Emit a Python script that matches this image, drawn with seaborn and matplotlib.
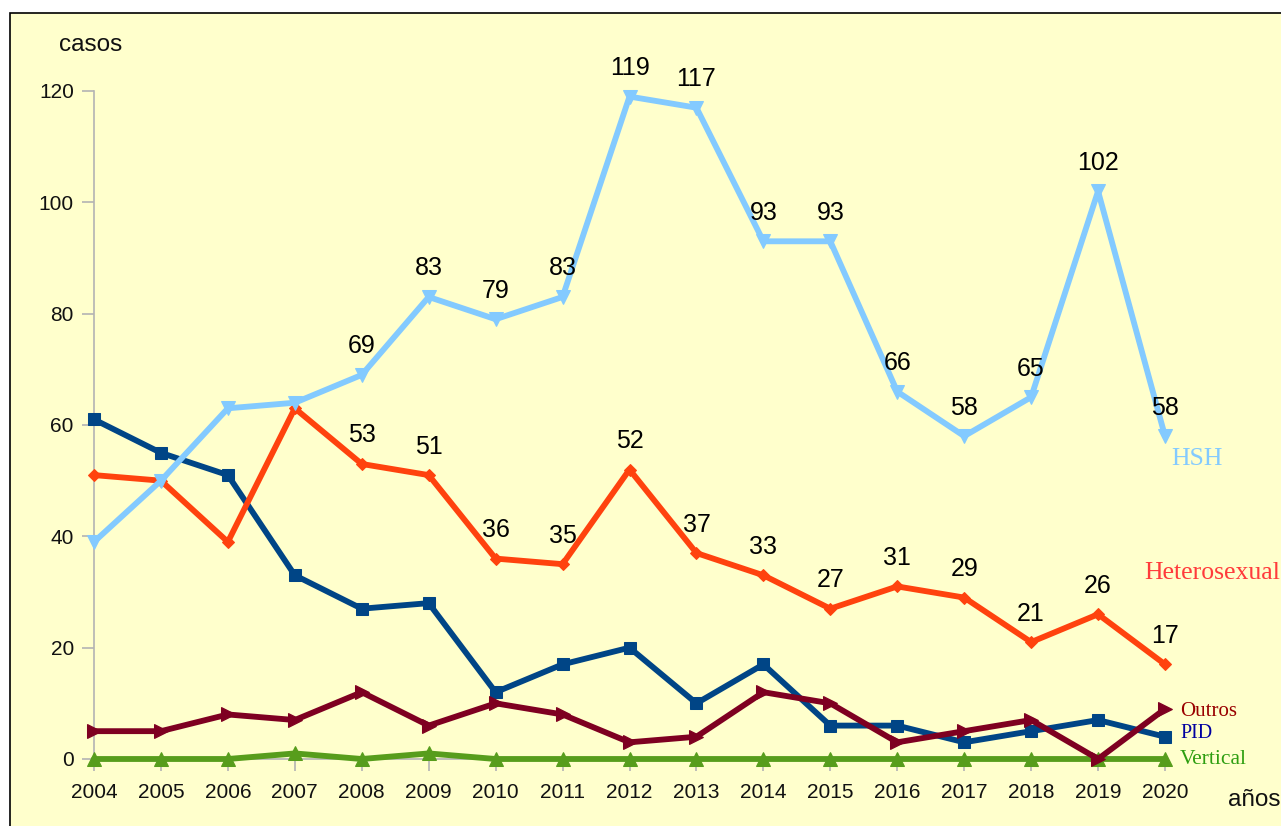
import matplotlib
matplotlib.use("Agg")
import matplotlib.pyplot as plt
from matplotlib.patches import Rectangle
import seaborn as sns
import pandas as pd

years = list(range(2004, 2021))
hsh = [39, 50, 63, 64, 69, 83, 79, 83, 119, 117, 93, 93, 66, 58, 65, 102, 58]
hetero = [51, 50, 39, 63, 53, 51, 36, 35, 52, 37, 33, 27, 31, 29, 21, 26, 17]
pid = [61, 55, 51, 33, 27, 28, 12, 17, 20, 10, 17, 6, 6, 3, 5, 7, 4]
outros = [5, 5, 8, 7, 12, 6, 10, 8, 3, 4, 12, 10, 3, 5, 7, 0, 9]
vertical = [0, 0, 0, 1, 0, 1, 0, 0, 0, 0, 0, 0, 0, 0, 0, 0, 0]
y_ticks = [0, 20, 40, 60, 80, 100, 120]
label_start = 2008

W, H = 1281, 826
sns.set_theme(style="white")
plt.rcParams['font.family'] = ['Liberation Sans', 'DejaVu Sans']
plt.rcParams['text.kerning_factor'] = 0

fig = plt.figure(figsize=(W / 100, H / 100), dpi=100)
fig.patch.set_facecolor("white")
fig.patches.append(Rectangle((10 / W, -0.02), 1.05, (H - 13) / H + 0.02,
                             transform=fig.transFigure, facecolor="#FFFFCC",
                             edgecolor="black", linewidth=1.2, zorder=-5))

ax = fig.add_axes([94 / W, (H - 759) / H, (1165 - 94) / W, (759 - 91) / H])
ax.set_facecolor("none")
ax.set_zorder(1)

series = [
    ("Vertical", vertical, "#579D1C", "^", 9.5, 2),
    ("PID", pid, "#004586", "s", 9, 3),
    ("Heterosexual", hetero, "#FF420E", "D", 6.5, 4),
    ("HSH", hsh, "#83CAFF", "v", 9.5, 5),
    ("Outros", outros, "#7E0021", ">", 9.5, 6),
]
for name, vals, col, mk, ms, z in series:
    df = pd.DataFrame({"year": years, "value": vals})
    sns.lineplot(data=df, x="year", y="value", ax=ax, color=col, linewidth=4.2,
                 marker=mk, markersize=ms, markeredgecolor=col, markerfacecolor=col,
                 zorder=z, clip_on=False, legend=False)

for vals in (hsh, hetero):
    for yr, v in zip(years, vals):
        if yr >= label_start:
            ax.annotate(str(v), (yr, v), xytext=(0, 28.5), textcoords="offset pixels",
                        ha="center", va="center", fontsize=18, color="black", zorder=10,
                        annotation_clip=False)

ax.set_xlim(2004, 2020)
ax.set_ylim(0, 120)
ax.set_xticks(years)
ax.set_xticklabels([str(y) for y in years])
ax.set_yticks(y_ticks)
ax.set_xlabel("")
ax.set_ylabel("")
for s in ("top", "right"):
    ax.spines[s].set_visible(False)
for s in ("left", "bottom"):
    ax.spines[s].set_color("#b3b3b3")
    ax.spines[s].set_linewidth(1.2)
    ax.spines[s].set_zorder(1)
ax.tick_params(axis="both", which="major", length=8.5, width=1.2, color="#b3b3b3",
               labelsize=15, labelcolor="#111111", direction="out", left=True, bottom=True)
ax.tick_params(axis="y", pad=6)
ax.tick_params(axis="x", pad=9)

fig.text(91 / W, 1 - 45 / H, "casos", ha="center", va="center", fontsize=17.5, color="#111111")
fig.text(1254 / W, 1 - 800 / H, "años", ha="center", va="center", fontsize=17.5, color="#111111")

serif = ['Liberation Serif', 'DejaVu Serif']
fig.text(1171 / W, 1 - 459 / H, "HSH", ha="left", va="center", fontsize=18.5,
         color="#83CAFF", family=serif)
fig.text(1144 / W, 1 - 573 / H, "Heterosexual", ha="left", va="center", fontsize=18.5,
         color="#FF3B3B", family=serif)
fig.text(1180 / W, 1 - 711 / H, "Outros", ha="left", va="center", fontsize=15,
         color="#990000", family=serif)
fig.text(1180 / W, 1 - 734 / H, "PID", ha="left", va="center", fontsize=14.5,
         color="#0000A0", family=serif)
fig.text(1180 / W, 1 - 759 / H, "Vertical", ha="left", va="center", fontsize=15.5,
         color="#2E9E10", family=serif)

fig.savefig("out.png", dpi=100, facecolor=fig.get_facecolor())
